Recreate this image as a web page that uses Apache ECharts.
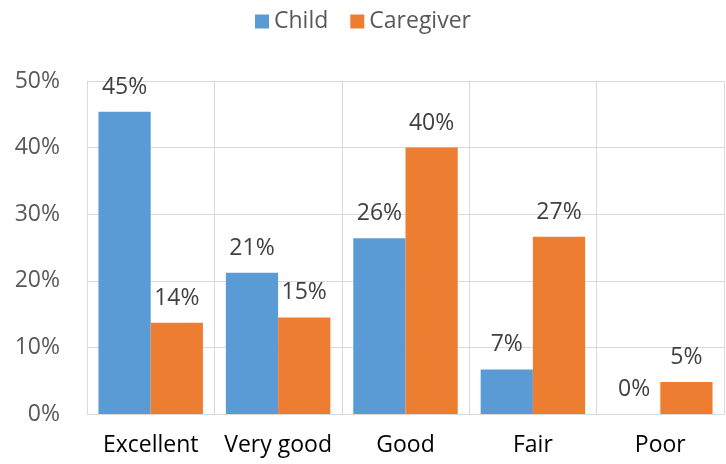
<!DOCTYPE html>
<html>
<head>
<meta charset="utf-8">
<script src="https://cdn.jsdelivr.net/npm/echarts@6/dist/echarts.min.js"></script>
<style>
html,body{margin:0;padding:0;background:#fff;}
#main{width:726px;height:464px;}
</style>
</head>
<body>
<div id="main"></div>
<script>
var categories = ['Excellent', 'Very good', 'Good', 'Fair', 'Poor'];
var childValues = [45.4, 21.2, 26.4, 6.7, 0];
var caregiverValues = [13.7, 14.5, 40.0, 26.6, 4.8];
var tickLabels = ['0%', '10%', '20%', '30%', '40%', '50%'];

var font = 'Open Sans';
var chart = echarts.init(document.getElementById('main'));

function barLabel() {
	return {
		show: true,
		position: 'top',
		distance: 13,
		color: '#404040',
		fontFamily: font,
		fontSize: 23,
		formatter: function (p) { return Math.round(p.value) + '%'; }
	};
}

var option = {
	animation: false,
	color: ['#5B9BD5', '#ED7D31'],
	legend: {
		top: 5,
		left: 'center',
		itemWidth: 14,
		itemHeight: 14,
		itemGap: 22,
		icon: 'rect',
		textStyle: { color: '#595959', fontFamily: font, fontSize: 23 },
		data: ['Child', 'Caregiver']
	},
	grid: { left: 87, right: 2, top: 81, bottom: 50 },
	xAxis: {
		type: 'category',
		data: categories,
		axisLine: { lineStyle: { color: '#d9d9d9' } },
		axisTick: { show: false },
		axisLabel: { interval: 0, color: '#000', fontFamily: font, fontSize: 23, margin: 20 },
		splitLine: { show: true, interval: 0, lineStyle: { color: '#d9d9d9' } }
	},
	yAxis: {
		type: 'value',
		min: 0,
		max: 50,
		interval: 10,
		axisLine: { show: false },
		axisTick: { show: false },
		axisLabel: {
			color: '#595959', fontFamily: font, fontSize: 23, margin: 27,
			formatter: function (v) { return tickLabels[v / 10]; }
		},
		splitLine: { show: true, lineStyle: { color: '#d9d9d9' } }
	},
	series: [
		{
			name: 'Child',
			type: 'bar',
			data: childValues,
			barGap: '0%',
			barCategoryGap: '18%',
			label: barLabel()
		},
		{
			name: 'Caregiver',
			type: 'bar',
			data: caregiverValues,
			barGap: '0%',
			barCategoryGap: '18%',
			label: barLabel()
		}
	]
};
chart.setOption(option);
</script>
</body>
</html>
